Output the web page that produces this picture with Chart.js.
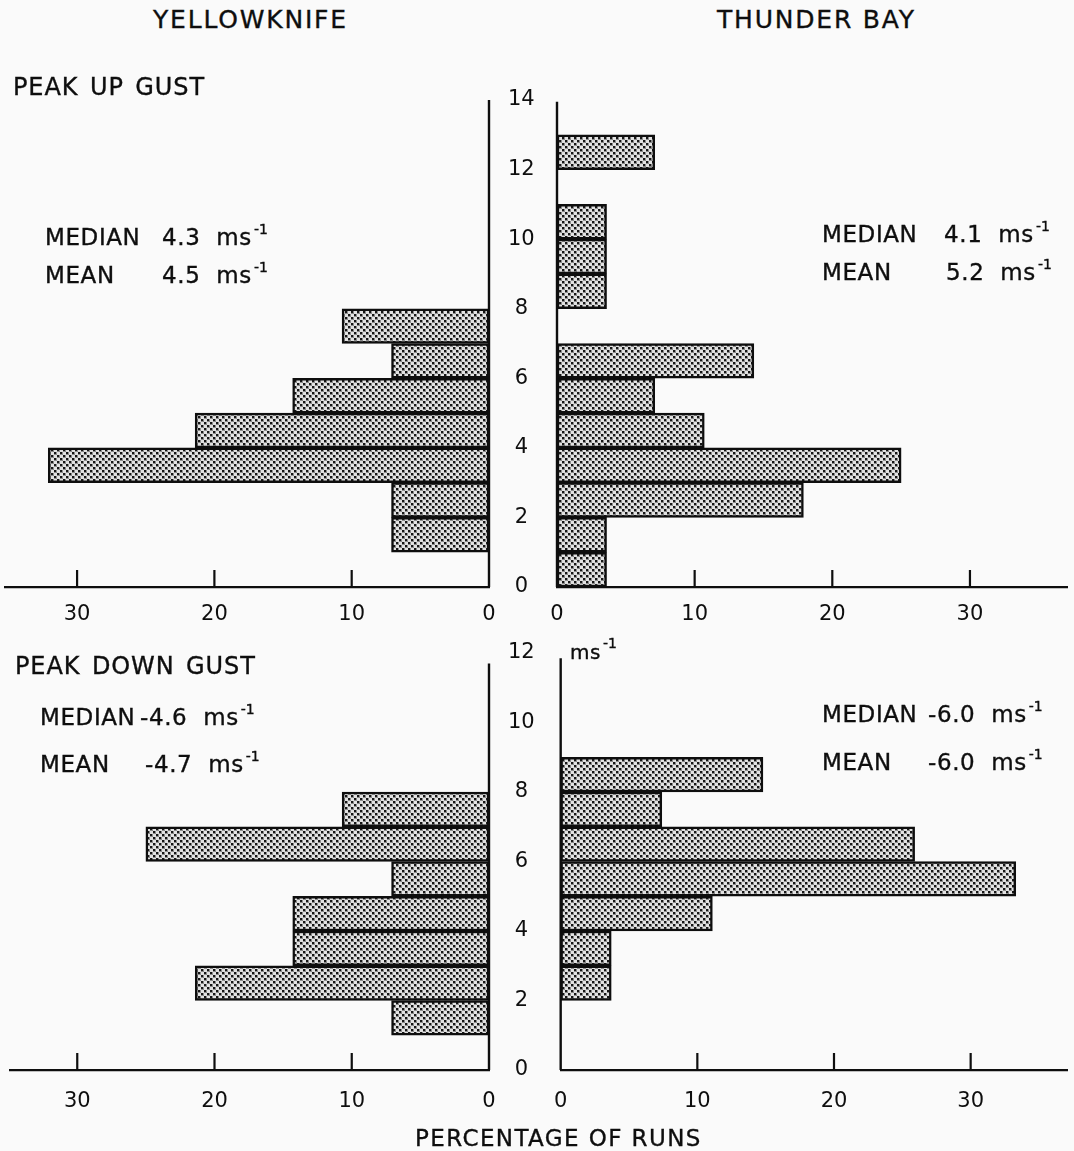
<!DOCTYPE html>
<html>
<head>
<meta charset="utf-8">
<title>Peak gust distributions — Yellowknife and Thunder Bay</title>
<script src="https://cdn.jsdelivr.net/npm/chart.js@4.4.1/dist/chart.umd.min.js"></script>
<style>
  html, body { margin: 0; padding: 0; background: #fafafa; }
  #fig { position: relative; width: 1074px; height: 1151px; overflow: hidden;
         font-family: "DejaVu Sans", sans-serif; color: #0e0e0e; }
  #fig canvas { position: absolute; }
  .t { position: absolute; white-space: pre; line-height: 1; -webkit-text-stroke: 0.35px #0e0e0e; }
  .site  { font-size: 25px; letter-spacing: 1.8px; top: 7px; }
  .panel { font-size: 24px; letter-spacing: 0.9px; word-spacing: 3px; }
  .stat  { font-size: 23px; letter-spacing: 0.6px; word-spacing: 8px; }
  .unit  { font-size: 20px; letter-spacing: 0.5px; }
  .sup   { font-size: 14px; position: relative; top: -11px; margin-left: 2px; letter-spacing: 0; }
  .axis-title { font-size: 23px; letter-spacing: 1.4px; }
</style>
</head>
<body>
<div id="fig">
  <canvas id="ykUp"   width="545" height="560" style="left:0;top:80px"></canvas>
  <canvas id="tbUp"   width="539" height="560" style="left:535px;top:80px"></canvas>
  <canvas id="ykDown" width="545" height="521" style="left:0;top:630px"></canvas>
  <canvas id="tbDown" width="539" height="521" style="left:535px;top:630px"></canvas>

  <div class="t site" style="left:153px">YELLOWKNIFE</div>
  <div class="t site" style="left:717px">THUNDER BAY</div>

  <div class="t panel" style="left:13px;top:75px">PEAK UP GUST</div>
  <div class="t stat" style="left:45px;top:226px">MEDIAN</div>
  <div class="t stat" style="left:162px;top:226px">4.3 ms<span class="sup">-1</span></div>
  <div class="t stat" style="left:45px;top:264px">MEAN</div>
  <div class="t stat" style="left:162px;top:264px">4.5 ms<span class="sup">-1</span></div>
  <div class="t stat" style="left:822px;top:223px">MEDIAN</div>
  <div class="t stat" style="left:944px;top:223px">4.1 ms<span class="sup">-1</span></div>
  <div class="t stat" style="left:822px;top:261px">MEAN</div>
  <div class="t stat" style="left:946px;top:261px">5.2 ms<span class="sup">-1</span></div>

  <div class="t panel" style="left:15px;top:654px">PEAK DOWN GUST</div>
  <div class="t stat" style="left:40px;top:706px">MEDIAN</div>
  <div class="t stat" style="left:140px;top:706px">-4.6 ms<span class="sup">-1</span></div>
  <div class="t stat" style="left:40px;top:753px">MEAN</div>
  <div class="t stat" style="left:145px;top:753px">-4.7 ms<span class="sup">-1</span></div>
  <div class="t stat" style="left:822px;top:703px">MEDIAN</div>
  <div class="t stat" style="left:928px;top:703px">-6.0 ms<span class="sup">-1</span></div>
  <div class="t stat" style="left:822px;top:751px">MEAN</div>
  <div class="t stat" style="left:928px;top:751px">-6.0 ms<span class="sup">-1</span></div>

  <div class="t unit" style="left:570px;top:642px">ms<span class="sup">-1</span></div>
  <div class="t axis-title" style="left:415px;top:1127px">PERCENTAGE OF RUNS</div>
</div>

<script>
// Lower edge (m/s) of each 1 m/s class of peak gust speed
const speedClasses = [0, 1, 2, 3, 4, 5, 6, 7, 8, 9, 10, 11, 12, 13];

// Percentage of runs falling in each speed class
const yellowknifeUp   = [0, 7.1, 7.1, 32.1, 21.4, 14.3, 7.1, 10.7, 0, 0, 0, 0, 0, 0];
const thunderBayUp    = [3.6, 3.6, 17.9, 25.0, 10.7, 7.1, 14.3, 0, 3.6, 3.6, 3.6, 0, 7.1, 0];
const yellowknifeDown = [0, 7.1, 21.4, 14.3, 14.3, 7.1, 25.0, 10.7, 0, 0, 0, 0, 0, 0];
const thunderBayDown  = [0, 0, 3.7, 3.7, 11.1, 33.3, 25.9, 7.4, 14.8, 0, 0, 0, 0, 0];

// Axis tick values
const percentTicks   = [0, 10, 20, 30];
const upSpeedTicks   = [0, 2, 4, 6, 8, 10, 12, 14];
const downSpeedTicks = [0, 2, 4, 6, 8, 10, 12];

const INK = '#0e0e0e';

Chart.defaults.font.family = '"DejaVu Sans", sans-serif';
Chart.defaults.font.size = 21;
Chart.defaults.color = INK;

// Dot-screen fill used for the bars
function stipple() {
  const c = document.createElement('canvas');
  c.width = 6; c.height = 6;
  const g = c.getContext('2d');
  g.fillStyle = '#e2e2e2';
  g.fillRect(0, 0, 6, 6);
  g.fillStyle = '#8a8a8a';
  g.fillRect(0, 0, 3, 3);
  g.fillRect(3, 3, 3, 3);
  g.fillStyle = '#161616';
  g.fillRect(0, 0, 2, 2);
  g.fillRect(3, 3, 2, 2);
  return g.createPattern(c, 'repeat');
}
const dotFill = stipple();

// Speed axis line (drawn over the bars) and inward tick marks on the percentage axis
const frame = {
  id: 'frame',
  afterDatasetsDraw(chart, args, opts) {
    const { ctx, scales: { x, y } } = chart;
    const base = x.getPixelForValue(0);
    ctx.save();
    ctx.strokeStyle = INK;
    ctx.lineWidth = 2.4;
    ctx.beginPath();
    ctx.moveTo(base, y.getPixelForValue(0));
    ctx.lineTo(base, y.getPixelForValue(opts.axisTop));
    ctx.stroke();
    ctx.lineWidth = 2.2;
    ctx.beginPath();
    x.ticks.forEach(t => {
      if (t.value === 0) return;
      const px = x.getPixelForValue(t.value);
      ctx.moveTo(px, y.bottom);
      ctx.lineTo(px, y.bottom - opts.tickLength);
    });
    ctx.stroke();
    ctx.restore();
  }
};

function histogram(canvasId, values, cfg) {
  const leftSide = cfg.side === 'left';
  const bars = speedClasses
    .map((lo, i) => ({ y: lo + 0.5, x: values[i] }))
    .filter(p => p.x > 0);

  return new Chart(document.getElementById(canvasId), {
    type: 'bar',
    data: {
      datasets: [{
        data: bars,
        backgroundColor: dotFill,
        borderColor: INK,
        borderWidth: 2.5,
        borderSkipped: false,
        barPercentage: 1,
        categoryPercentage: 1
      }]
    },
    options: {
      indexAxis: 'y',
      responsive: false,
      animation: false,
      layout: { padding: cfg.padding },
      plugins: {
        legend: { display: false },
        tooltip: { enabled: false },
        frame: { axisTop: cfg.axisTop, tickLength: 17 }
      },
      scales: {
        x: {
          type: 'linear',
          reverse: leftSide,
          min: 0,
          max: cfg.xMax,
          offset: false,
          grid: { display: false, drawTicks: false, offset: false },
          border: { display: true, color: INK, width: 2.2 },
          ticks: { padding: cfg.xLabelPad, maxRotation: 0, autoSkip: false },
          afterBuildTicks: s => { s.ticks = percentTicks.map(v => ({ value: v })); },
          afterFit: s => { s.height = cfg.xAxisHeight; }
        },
        y: {
          type: 'linear',
          position: leftSide ? 'right' : 'left',
          display: leftSide,
          min: 0,
          max: cfg.yMax,
          offset: false,
          grid: { display: false, drawTicks: false, offset: false },
          border: { display: false },
          ticks: { padding: 19, crossAlign: 'center' },
          afterBuildTicks: s => { s.ticks = cfg.speedTicks.map(v => ({ value: v })); },
          afterFit: s => {
            s.width = leftSide ? 56 : 0;
            // the canvas already leaves room for the end labels, keep the plot area fixed
            s.paddingTop = 0;
            s.paddingBottom = 0;
          }
        }
      }
    },
    plugins: [frame]
  });
}

histogram('ykUp', yellowknifeUp, {
  side: 'left', yMax: 14, axisTop: 14, xMax: 35.25, speedTicks: upSpeedTicks,
  padding: { top: 20, left: 5, right: 0, bottom: 0 }, xAxisHeight: 53, xLabelPad: 15
});
histogram('tbUp', thunderBayUp, {
  side: 'right', yMax: 14, axisTop: 13.95, xMax: 37.05, speedTicks: upSpeedTicks,
  padding: { top: 20, left: 22, right: 7, bottom: 0 }, xAxisHeight: 53, xLabelPad: 15
});
histogram('ykDown', yellowknifeDown, {
  side: 'left', yMax: 12, axisTop: 11.7, xMax: 34.9, speedTicks: downSpeedTicks,
  padding: { top: 23, left: 10, right: 0, bottom: 0 }, xAxisHeight: 81, xLabelPad: 19
});
histogram('tbDown', thunderBayDown, {
  side: 'right', yMax: 12, axisTop: 11.85, xMax: 37.05, speedTicks: downSpeedTicks,
  padding: { top: 23, left: 22, right: 7, bottom: 0 }, xAxisHeight: 81, xLabelPad: 19
});
</script>
</body>
</html>
